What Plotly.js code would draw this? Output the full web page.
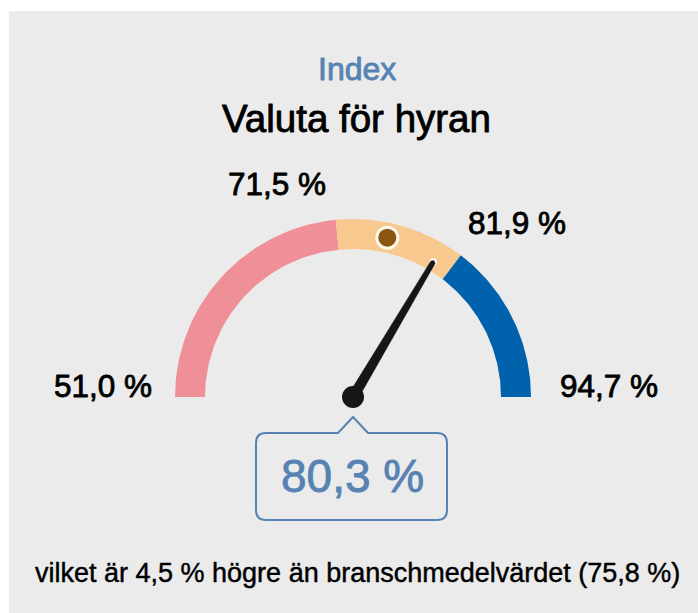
<!DOCTYPE html>
<html><head><meta charset="utf-8">
<script src="https://cdn.plot.ly/plotly-3.0.1.min.js"></script>
<style>html,body{margin:0;padding:0;background:#fff;overflow:hidden}#chart{width:698px;height:613px}</style>
</head><body><div id="chart"></div>
<script>
// ---- data ----
const kicker = 'Index';
const chartTitle = 'Valuta för hyran';
const bandStarts = [51.0, 71.5, 81.9];
const bandEnds = [71.5, 81.9, 94.7];
const tickValues = [51.0, 71.5, 81.9, 94.7];
const scoreValue = 80.3;
const benchmarkValue = 75.8;
const differenceValue = 4.5;

// ---- styling / layout ----
const bandColors = ['#ef8f97', '#f8c98f', '#0061ad'];
const blueText = '#5683b3';
const font = 'Liberation Sans, Arial, sans-serif';
const W = 698, H = 613;
const cx = 353, cy = 397, rOut = 178, rIn = 148;
const minV = bandStarts[0], maxV = bandEnds[bandEnds.length - 1];

const fmt = v => v.toFixed(1).replace('.', ',') + ' %';
const ang = v => Math.PI * (1 - (v - minV) / (maxV - minV));
const pt = (r, v) => [cx + r * Math.cos(ang(v)), cy - r * Math.sin(ang(v))];

const traces = [];
bandStarts.forEach((s, i) => {
  const e = bandEnds[i], n = 80, xs = [], ys = [];
  for (let k = 0; k <= n; k++) { const p = pt(rOut, s + (e - s) * k / n); xs.push(p[0]); ys.push(p[1]); }
  for (let k = n; k >= 0; k--) { const p = pt(rIn, s + (e - s) * k / n); xs.push(p[0]); ys.push(p[1]); }
  traces.push({x: xs, y: ys, type: 'scatter', mode: 'lines', fill: 'toself', fillcolor: bandColors[i],
    line: {width: 0, color: bandColors[i]}, hoverinfo: 'skip'});
});

// benchmark dot
const bp = pt((rOut + rIn) / 2, benchmarkValue);
traces.push({x: [bp[0]], y: [bp[1]], type: 'scatter', mode: 'markers',
  marker: {size: 21, color: '#8a5713', line: {color: '#fdf6ec', width: 3}}, hoverinfo: 'skip'});

// needle
const tipR = 157;
const th = ang(scoreValue);
const ux = Math.cos(th), uy = -Math.sin(th);
const px = Math.sin(th), py = Math.cos(th);
const tip = [cx + ux * tipR, cy + uy * tipR];
traces.push({x: [tip[0]], y: [tip[1]], type: 'scatter', mode: 'markers',
  marker: {size: 5.5, color: '#161616', line: {color: '#ffffff', width: 2}}, hoverinfo: 'skip'});
const bw = 5.2, tw = 2.4;
traces.push({x: [cx + px * bw, tip[0] + px * tw, tip[0] - px * tw, cx - px * bw, cx + px * bw],
  y: [cy + py * bw, tip[1] + py * tw, tip[1] - py * tw, cy - py * bw, cy + py * bw],
  type: 'scatter', mode: 'lines', fill: 'toself', fillcolor: '#161616', line: {width: 0.5, color: '#161616'}, hoverinfo: 'skip'});
traces.push({x: [cx], y: [cy], type: 'scatter', mode: 'markers',
  marker: {size: 22, color: '#161616'}, hoverinfo: 'skip'});

// callout box path
const bL = cx - 97, bR = cx + 94, bT = 433, bB = 520, rad = 10, pW = 15, pTip = 417;
const callout = `M ${bL + rad} ${bT} L ${cx - pW} ${bT} L ${cx} ${pTip} L ${cx + pW} ${bT} L ${bR - rad} ${bT} ` +
  `Q ${bR} ${bT} ${bR} ${bT + rad} L ${bR} ${bB - rad} Q ${bR} ${bB} ${bR - rad} ${bB} ` +
  `L ${bL + rad} ${bB} Q ${bL} ${bB} ${bL} ${bB - rad} L ${bL} ${bT + rad} Q ${bL} ${bT} ${bL + rad} ${bT} Z`;

const annotations = [
  {x: 357, y: 68.5, text: kicker, font: {family: font, size: 32, color: blueText}},
  {x: 356, y: 118.5, text: chartTitle, font: {family: font, size: 38.5, color: '#000'}},
  {x: cx - 0.5, y: 476, text: fmt(scoreValue), font: {family: font, size: 46, color: blueText}},
  {x: 357, y: 572.5, text: `vilket är ${fmt(differenceValue)} högre än branschmedelvärdet (${fmt(benchmarkValue)})`,
    font: {family: font, size: 27, color: '#000'}}
];
const labelR = 200;
const labelDx = [1, -5.4, -8, 5];
const labelDy = [-11.5, -14, -15.3, -11.5];
tickValues.forEach((v, i) => {
  const p = pt(labelR, v);
  annotations.push({x: p[0] + labelDx[i], y: p[1] + labelDy[i], text: fmt(v),
    xanchor: Math.cos(ang(v)) < 0 ? 'right' : 'left',
    font: {family: font, size: 31.5, color: '#000'}});
});
annotations.forEach(a => { a.xref = 'x'; a.yref = 'y'; a.showarrow = false; if (!a.xanchor) a.xanchor = 'center'; a.yanchor = 'middle'; });

const layout = {
  width: W, height: H, margin: {l: 0, r: 0, t: 0, b: 0},
  paper_bgcolor: '#ffffff', plot_bgcolor: 'rgba(0,0,0,0)', showlegend: false, hovermode: false,
  xaxis: {range: [0, W], visible: false, fixedrange: true},
  yaxis: {range: [H, 0], visible: false, fixedrange: true},
  shapes: [
    {type: 'rect', xref: 'x', yref: 'y', x0: 9, y0: 11, x1: W, y1: H, fillcolor: '#ebebeb', line: {width: 0}, layer: 'below'},
    {type: 'path', xref: 'x', yref: 'y', path: callout, fillcolor: '#ebebeb', line: {color: blueText, width: 2}, layer: 'below'}
  ],
  annotations
};
Plotly.newPlot('chart', traces, layout, {staticPlot: true, displayModeBar: false}).then(gd => {
  // slightly heavier text to match the medium-weight type of the original
  gd.querySelectorAll('.annotation-text').forEach(t => {
    const size = parseFloat(t.style.fontSize) || 20;
    t.style.stroke = t.style.fill;
    t.style.strokeWidth = (size < 30 ? 0.45 : 0.85) + 'px';
    t.style.strokeLinejoin = 'round';
  });
});
</script></body></html>
